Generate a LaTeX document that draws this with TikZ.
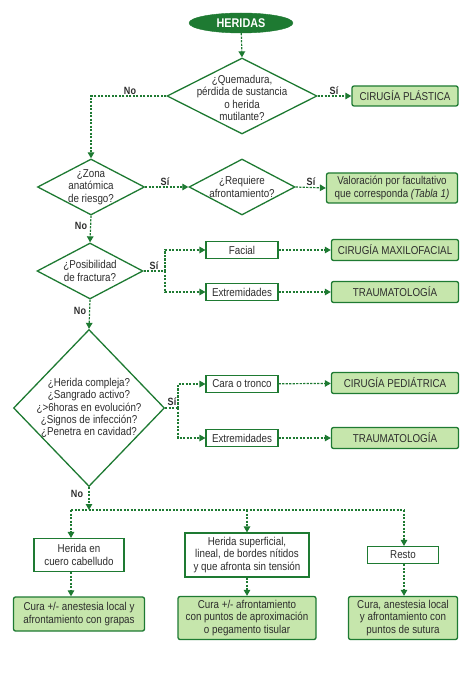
\documentclass[tikz,border=0pt]{standalone}
\usepackage{fontspec}
\setmainfont{Liberation Sans}[FakeStretch=0.86]
\usepackage{tikz}
\usetikzlibrary{shapes.geometric, arrows.meta, positioning, calc}
\definecolor{hgreen}{RGB}{30,122,50}
\definecolor{hlight}{RGB}{198,230,172}
\definecolor{htext}{RGB}{45,45,45}
\tikzstyle{start} = [ellipse, fill=hgreen, draw=hgreen, text=white, font=\bfseries\fontsize{12.6}{13}\selectfont, minimum width=104pt, minimum height=20pt, inner sep=0pt]
\tikzstyle{decision} = [diamond, draw=hgreen, line width=1.3pt, inner sep=0pt]
\tikzstyle{qtext} = [align=center, inner sep=0pt, text=htext]
\tikzstyle{stepbox} = [rectangle, draw=hgreen, line width=1.1pt, fill=white, align=center, inner sep=1pt, text=htext]
\tikzstyle{result} = [rectangle, rounded corners=2pt, draw=hgreen, line width=1.3pt, fill=hlight, align=center, inner sep=1pt, text=htext]
\tikzstyle{arrow} = [draw=hgreen, line width=1.2pt, dash pattern=on 2.2pt off 1.3pt, -{Triangle[length=6pt,width=6.5pt]}]
\tikzstyle{line} = [draw=hgreen, line width=1.2pt, dash pattern=on 2.2pt off 1.3pt]
\tikzstyle{ans} = [font=\bfseries\fontsize{10.5}{11}\selectfont, inner sep=0pt, text=htext]

\begin{document}
\begin{tikzpicture}[x=1pt, y=-1pt, font=\fontsize{11.4}{12.4}\selectfont]
    \useasboundingbox (0,0) rectangle (474,684);
    % top
    \node[start] (heridas) at (241,23) {HERIDAS};
    \node[decision, minimum width=150pt, minimum height=76pt] (q1) at (242,96) {};
    \node[qtext] (q1t) at (242,98) {¿Quemadura,\\pérdida de sustancia\\o herida\\mutilante?};
    \node[result, minimum width=106pt, minimum height=20pt] (plastica) at (405,96) {CIRUGÍA PLÁSTICA};
    % zona de riesgo
    \node[decision, minimum width=107pt, minimum height=56pt] (q2) at (91,187) {};
    \node[qtext] (q2t) at (91,187) {¿Zona\\anatómica\\de riesgo?};
    \node[decision, minimum width=106pt, minimum height=56pt] (q3) at (242,187) {};
    \node[qtext] (q3t) at (242,187) {¿Requiere\\afrontamiento?};
    \node[result, minimum width=131pt, minimum height=30pt] (valoracion) at (392,188) {Valoración por facultativo\\que corresponda \textit{(Tabla 1)}};
    % fractura
    \node[decision, minimum width=106pt, minimum height=56pt] (q4) at (90,271) {};
    \node[qtext] (q4t) at (90,271) {¿Posibilidad\\de fractura?};
    \node[stepbox, minimum width=72pt, minimum height=17pt] (facial) at (242,250) {Facial};
    \node[stepbox, minimum width=72pt, minimum height=17pt] (extrem1) at (242,292) {Extremidades};
    \node[result, minimum width=127pt, minimum height=21pt] (maxilo) at (395,250) {CIRUGÍA MAXILOFACIAL};
    \node[result, minimum width=127pt, minimum height=21pt] (trauma1) at (395,292) {TRAUMATOLOGÍA};
    % herida compleja
    \node[decision, minimum width=151pt, minimum height=157pt] (q5) at (89,408) {};
    \node[qtext] (q5t) at (89,408) {¿Herida compleja?\\¿Sangrado activo?\\¿>6horas en evolución?\\¿Signos de infección?\\¿Penetra en cavidad?};
    \node[stepbox, minimum width=72pt, minimum height=17pt] (cara) at (242,384) {Cara o tronco};
    \node[stepbox, minimum width=72pt, minimum height=17pt] (extrem2) at (242,438) {Extremidades};
    \node[result, minimum width=127pt, minimum height=21pt] (pediatrica) at (395,383) {CIRUGÍA PEDIÁTRICA};
    \node[result, minimum width=127pt, minimum height=21pt] (trauma2) at (395,438) {TRAUMATOLOGÍA};
    % bottom
    \node[stepbox, minimum width=90pt, minimum height=33pt] (cuero) at (79,555) {Herida en\\cuero cabelludo};
    \node[stepbox, minimum width=124pt, minimum height=44pt] (superf) at (247,555) {Herida superficial,\\lineal, de bordes nítidos\\y que afronta sin tensión};
    \node[stepbox, minimum width=71pt, minimum height=17pt] (resto) at (403,555) {Resto};
    \node[result, minimum width=131pt, minimum height=34pt] (cura1) at (79,614) {Cura +/- anestesia local y\\afrontamiento con grapas};
    \node[result, minimum width=138pt, minimum height=43pt] (cura2) at (247,618) {Cura +/- afrontamiento\\con puntos de aproximación\\o pegamento tisular};
    \node[result, minimum width=109pt, minimum height=43pt] (cura3) at (403,618) {Cura, anestesia local\\y afrontamiento con\\puntos de sutura};
    % branch points
    \coordinate (fork4) at (165,271);
    \coordinate (fork5) at (178,408);
    \coordinate (b1) at (71,510);
    \coordinate (b2) at (247,510);
    \coordinate (b3) at (404,510);
    % answers
    \node[ans] (si1) at (334,91) {Sí};
    \node[ans] (no1) at (130,91) {No};
    \node[ans] (si2) at (165,182) {Sí};
    \node[ans] (si3) at (311,182) {Sí};
    \node[ans] (no2) at (81,226) {No};
    \node[ans] (si4) at (154,266) {Sí};
    \node[ans] (no4) at (80,311) {No};
    \node[ans] (si5) at (172,402) {Sí};
    \node[ans] (no5) at (77,494) {No};
    % connectors
    \draw[arrow] (heridas) -- (q1.north);
    \draw[arrow] (q1.east) -- (plastica.west);
    \draw[arrow] (q1.west) -| (q2.north);
    \draw[arrow] (q2.east) -- (q3.west);
    \draw[arrow] (q3.east) -- (valoracion.west);
    \draw[arrow] (q2.south) -- (q4.north);
    \draw[line] (q4.east) -- (fork4);
    \draw[arrow] (fork4) |- (facial.west);
    \draw[arrow] (fork4) |- (extrem1.west);
    \draw[arrow] (facial) -- (maxilo);
    \draw[arrow] (extrem1) -- (trauma1);
    \draw[arrow] (q4.south) -- (q5.north);
    \draw[line] (q5.east) -- (fork5);
    \draw[arrow] (fork5) |- (cara.west);
    \draw[arrow] (fork5) |- (extrem2.west);
    \draw[arrow] (cara) -- (pediatrica);
    \draw[arrow] (extrem2) -- (trauma2);
    \draw[arrow] (q5.south) -- (q5.south |- b1);
    \draw[line] (b1) -- (b3);
    \draw[arrow] (b1) -- (b1 |- cuero.north);
    \draw[arrow] (b2) -- (superf.north);
    \draw[arrow] (b3) -- (b3 |- resto.north);
    \draw[arrow] (cuero.south -| b1) -- (b1 |- cura1.north);
    \draw[arrow] (superf) -- (cura2);
    \draw[arrow] (resto.south -| b3) -- (b3 |- cura3.north);
\end{tikzpicture}
\end{document}
